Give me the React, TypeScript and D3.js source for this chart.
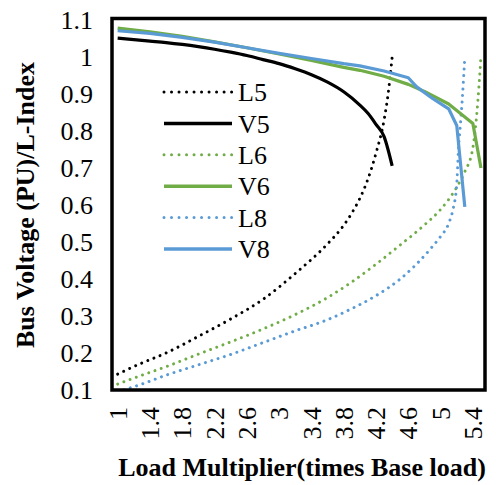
import React from "react";
import * as d3 from "d3";

const xTicks = [1, 1.4, 1.8, 2.2, 2.6, 3, 3.4, 3.8, 4.2, 4.6, 5, 5.4];
const yTicks = [0.1, 0.2, 0.3, 0.4, 0.5, 0.6, 0.7, 0.8, 0.9, 1, 1.1];

const l5X = [1.0, 1.3, 1.6, 2.0, 2.4, 2.8, 3.2, 3.6, 3.8, 3.9, 4.0, 4.1, 4.2, 4.3, 4.35, 4.4];
const l5Y = [0.143, 0.173, 0.2, 0.245, 0.292, 0.345, 0.415, 0.495, 0.545, 0.578, 0.618, 0.67, 0.74, 0.83, 0.9, 1.0];

const v5X = [1.0, 1.2, 1.4, 1.6, 1.8, 2.0, 2.2, 2.4, 2.6, 2.8, 3.0, 3.2, 3.4, 3.6, 3.8, 4.0, 4.1, 4.2, 4.3, 4.4];
const v5Y = [1.051, 1.047, 1.043, 1.039, 1.034, 1.028, 1.021, 1.013, 1.004, 0.993, 0.982, 0.968, 0.952, 0.932, 0.906, 0.87, 0.848, 0.818, 0.785, 0.706];

const l6X = [1.0, 1.3, 1.6, 2.0, 2.4, 2.8, 3.2, 3.6, 3.9, 4.2, 4.5, 4.8, 5.0, 5.1, 5.2, 5.3, 5.4, 5.45, 5.5];
const l6Y = [0.116, 0.14, 0.163, 0.197, 0.23, 0.265, 0.304, 0.35, 0.392, 0.44, 0.492, 0.546, 0.588, 0.615, 0.648, 0.69, 0.755, 0.85, 1.0];

const v6X = [1.0, 1.4, 1.8, 2.2, 2.6, 3.0, 3.4, 3.8, 4.0, 4.3, 4.6, 4.8, 5.1, 5.4, 5.5];
const v6Y = [1.078, 1.068, 1.056, 1.041, 1.025, 1.008, 0.991, 0.972, 0.964, 0.948, 0.926, 0.907, 0.873, 0.82, 0.7];

const l8X = [1.0, 1.3, 1.6, 2.0, 2.4, 2.8, 3.2, 3.6, 3.9, 4.2, 4.5, 4.7, 4.9, 5.0, 5.1, 5.15, 5.2, 5.22, 5.25, 5.27, 5.3];
const l8Y = [0.095, 0.116, 0.14, 0.168, 0.196, 0.228, 0.26, 0.29, 0.32, 0.355, 0.4, 0.44, 0.488, 0.515, 0.55, 0.585, 0.655, 0.745, 0.83, 0.89, 1.0];

const v8X = [1.0, 1.4, 1.8, 2.2, 2.6, 3.0, 3.4, 3.8, 4.0, 4.3, 4.6, 4.7, 4.9, 5.1, 5.2, 5.3];
const v8Y = [1.071, 1.064, 1.053, 1.04, 1.025, 1.01, 0.996, 0.982, 0.976, 0.962, 0.944, 0.92, 0.888, 0.86, 0.815, 0.595];

const seriesNames = ["L5", "V5", "L6", "V6", "L8", "V8"];
const seriesColors = ["#000000", "#000000", "#70AD47", "#70AD47", "#5B9BD5", "#5B9BD5"];
const seriesDotted = [true, false, true, false, true, false];
const seriesSmooth = [true, true, true, false, true, false];
const seriesXs = [l5X, v5X, l6X, v6X, l8X, v8X];
const seriesYs = [l5Y, v5Y, l6Y, v6Y, l8Y, v8Y];

const FONT = "'Liberation Serif', 'Times New Roman', serif";

export default function App() {
  const W = 496, H = 485;
  const left = 112, right = 485, top = 18.5, bottom = 390;
  const x = d3.scaleLinear().domain([0.93, 5.55]).range([left, right]);
  const y = d3.scaleLinear().domain([0.1, 1.1]).range([bottom, top + 1.5]);
  const lineStraight = d3
    .line<[number, number]>()
    .x((d) => x(d[0]))
    .y((d) => y(d[1]));
  const lineSmooth = d3
    .line<[number, number]>()
    .x((d) => x(d[0]))
    .y((d) => y(d[1]))
    .curve(d3.curveMonotoneX);

  const drawOrder = [0, 2, 4, 1, 3, 5];

  return (
    <svg width={W} height={H} style={{ position: "absolute", left: 0, top: 0, background: "#fff" }}>
      <rect x={0} y={0} width={W} height={H} fill="#fff" />
      <defs>
        <clipPath id="plotclip">
          <rect x={left} y={top - 2} width={right - left} height={bottom - top + 2} />
        </clipPath>
      </defs>
      <g clipPath="url(#plotclip)">
        {drawOrder.map((i) => {
          const pts: [number, number][] = seriesXs[i].map((xv, k) => [xv, seriesYs[i][k]]);
          const gen = seriesSmooth[i] ? lineSmooth : lineStraight;
          return (
            <path
              key={seriesNames[i]}
              d={gen(pts) || ""}
              fill="none"
              stroke={seriesColors[i]}
              strokeWidth={seriesDotted[i] ? 3 : 3.2}
              strokeDasharray={seriesDotted[i] ? "0.01 6.6" : undefined}
              strokeLinecap={seriesDotted[i] ? "round" : "butt"}
              strokeLinejoin="round"
            />
          );
        })}
      </g>
      <rect x={left} y={top} width={right - left} height={bottom - top} fill="none" stroke="#000" strokeWidth={3.5} />
      {yTicks.map((t) => (
        <text
          key={"y" + t}
          x={93}
          y={y(t)}
          dy="0.35em"
          textAnchor="end"
          fontFamily={FONT}
          fontSize={26}
          fill="#000"
        >
          {String(Math.round(t * 10) / 10)}
        </text>
      ))}
      {xTicks.map((t) => (
        <text
          key={"x" + t}
          transform={`translate(${x(t)},407) rotate(-90)`}
          dy="0.35em"
          textAnchor="end"
          fontFamily={FONT}
          fontSize={26}
          fill="#000"
        >
          {String(t)}
        </text>
      ))}
      <text
        x={302}
        y={476}
        textAnchor="middle"
        fontFamily={FONT}
        fontSize={26}
        fontWeight="bold"
        fill="#000"
      >
        Load Multiplier(times Base load)
      </text>
      <text
        transform="translate(34,205) rotate(-90)"
        textAnchor="middle"
        fontFamily={FONT}
        fontSize={26}
        fontWeight="bold"
        fill="#000"
      >
        Bus Voltage (PU)/L-Index
      </text>
      {seriesNames.map((n, i) => {
        const ly = 92 + i * 31.4;
        return (
          <g key={"lg" + n}>
            <line
              x1={164}
              x2={232}
              y1={ly}
              y2={ly}
              stroke={seriesColors[i]}
              strokeWidth={seriesDotted[i] ? 3 : 3.5}
              strokeDasharray={seriesDotted[i] ? "0.01 7.5" : undefined}
              strokeLinecap={seriesDotted[i] ? "round" : "butt"}
            />
            <text x={238} y={ly} dy="0.35em" fontFamily={FONT} fontSize={26} fill="#000">
              {n}
            </text>
          </g>
        );
      })}
    </svg>
  );
}
